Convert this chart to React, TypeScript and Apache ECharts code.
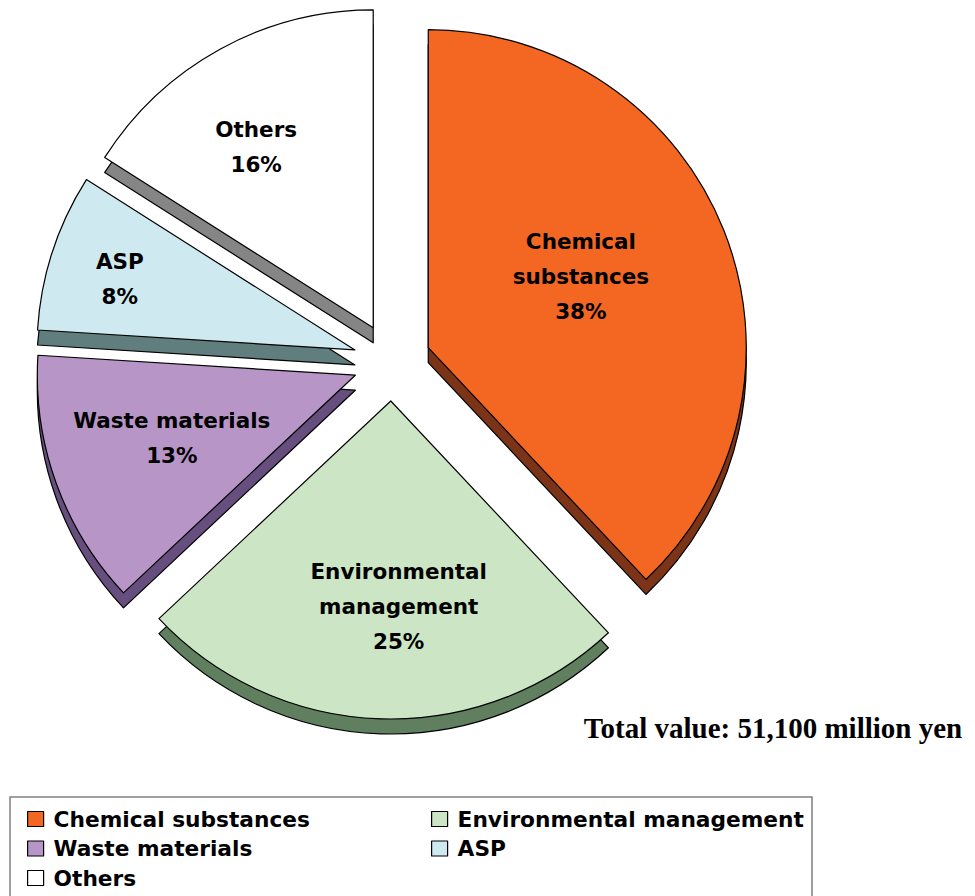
import React, { useEffect, useRef } from "react";
import * as echarts from "echarts";

const categories = [
  "Chemical substances",
  "Environmental management",
  "Waste materials",
  "ASP",
  "Others",
];
const shares = [38, 25, 13, 8, 16];
const sliceLabels = [
  "Chemical\nsubstances",
  "Environmental\nmanagement",
  "Waste materials",
  "ASP",
  "Others",
];
const topColors = ["#F46722", "#CCE5C4", "#B795C6", "#CFE9F0", "#FFFFFF"];
const sideColors = ["#7C3418", "#5F7F5F", "#664F7E", "#5F7E7D", "#858585"];
const totalText = "Total value: 51,100 million yen";

// layout constants (not data)
const PIE_CENTER = [392, 362];
const PIE_RADIUS = 318;
const DEPTH = 15;
const EXPLODE = 39;
const labelNudge = [
  [2, -12],
  [13, 44],
  [-31, 8],
  [-81, -21],
  [-39, -39],
];

const SANS = "'DejaVu Sans', 'Liberation Sans', Arial, sans-serif";

export default function App() {
  const ref = useRef<HTMLDivElement>(null);
  useEffect(() => {
    if (!ref.current) return;
    const chart = echarts.init(ref.current, null, { renderer: "svg" });
    const topData = categories.map((name, i) => ({
      name,
      value: shares[i],
      selected: true,
      itemStyle: { color: topColors[i] },
    }));
    const sideData = categories.map((name, i) => ({
      name,
      value: shares[i],
      selected: true,
      itemStyle: { color: sideColors[i] },
    }));
    const legendCommon = {
      orient: "vertical" as const,
      top: 808,
      padding: 0,
      itemGap: 7.5,
      itemWidth: 16,
      itemHeight: 15,
      icon: "rect",
      selectedMode: false,
      itemStyle: { borderColor: "#000", borderWidth: 1.2 },
      textStyle: {
        fontFamily: SANS,
        fontSize: 21.7,
        fontWeight: "bold" as const,
        color: "#000",
        lineHeight: 20,
        padding: [0, 0, 0, 5],
      },
    };
    chart.setOption({
      animation: false,
      backgroundColor: "#fff",
      legend: [
        { ...legendCommon, left: 27, data: [categories[0], categories[2], categories[4]] },
        { ...legendCommon, left: 431, data: [categories[1], categories[3]] },
      ],
      graphic: [
        {
          type: "rect",
          z: 0,
          shape: { x: 10, y: 797, width: 802, height: 110 },
          style: { fill: "#fff", stroke: "#808080", lineWidth: 1.5 },
        },
        {
          type: "text",
          x: 773,
          y: 728,
          style: {
            text: totalText,
            fontFamily: "'Liberation Serif', 'Times New Roman', serif",
            fontSize: 29,
            fontWeight: "bold",
            fill: "#000",
            align: "center",
            verticalAlign: "middle",
          },
        },
      ],
      series: [
        {
          type: "pie",
          name: "top",
          z: 3,
          center: [PIE_CENTER[0], PIE_CENTER[1]],
          radius: PIE_RADIUS,
          startAngle: 90,
          clockwise: true,
          selectedMode: "multiple",
          selectedOffset: EXPLODE,
          avoidLabelOverlap: false,
          itemStyle: { borderColor: "#000", borderWidth: 1.2 },
          select: { itemStyle: { borderColor: "#000", borderWidth: 1.2 } },
          emphasis: { disabled: true },
          label: {
            show: true,
            position: "inside",
            fontFamily: SANS,
            fontSize: 21.5,
            fontWeight: "bold",
            color: "#000",
            lineHeight: 35,
            align: "center",
            formatter: (p: any) =>
              `${sliceLabels[p.dataIndex]}\n${Math.round(p.percent)}%`,
          },
          labelLine: { show: false },
          labelLayout: (p: any) => ({
            dx: labelNudge[p.dataIndex][0],
            dy: labelNudge[p.dataIndex][1],
          }),
          data: topData,
        },
        {
          type: "pie",
          name: "side",
          z: 2,
          silent: true,
          center: [PIE_CENTER[0], PIE_CENTER[1] + DEPTH],
          radius: PIE_RADIUS,
          startAngle: 90,
          clockwise: true,
          selectedMode: "multiple",
          selectedOffset: EXPLODE,
          itemStyle: { borderColor: "#000", borderWidth: 1.2 },
          select: { itemStyle: { borderColor: "#000", borderWidth: 1.2 } },
          emphasis: { disabled: true },
          label: { show: false },
          labelLine: { show: false },
          data: sideData,
        },
      ],
    });
    return () => chart.dispose();
  }, []);
  return (
    <div
      ref={ref}
      style={{ position: "absolute", left: 0, top: 0, width: 975, height: 896 }}
    />
  );
}
